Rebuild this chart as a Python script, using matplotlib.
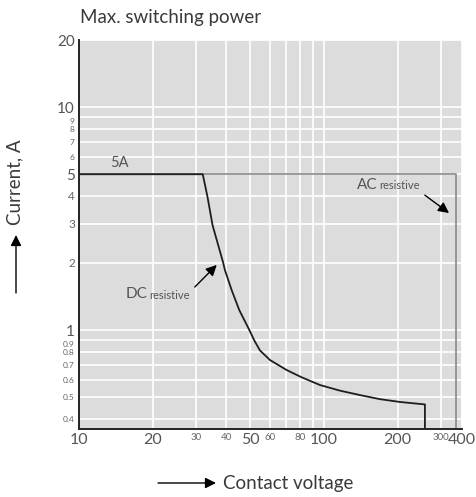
import matplotlib
matplotlib.use("Agg")
import matplotlib.pyplot as plt
from matplotlib.ticker import FixedLocator, NullFormatter
from matplotlib.transforms import ScaledTranslation

plt.rcParams['font.family'] = ['Lato', 'DejaVu Sans']

# ---- data ----
dc_voltage = [10, 32, 33.4, 35.1, 38.8, 39.4, 42.0, 45.1, 49.6, 51.9, 54.8, 60.2, 70.4, 81.1,
              96.3, 116.2, 140.3, 169.3, 204.2, 258.3, 258.3]
dc_current = [5, 5, 4.0, 2.95, 2.0, 1.86, 1.51, 1.23, 1.0, 0.9, 0.81, 0.734, 0.662, 0.614,
              0.567, 0.535, 0.511, 0.490, 0.476, 0.464, 0.30]
ac_voltage = [10, 346, 346]
ac_current = [5, 5, 0.30]

x_ticks = [10, 20, 30, 40, 50, 60, 80, 100, 200, 300, 366]
x_labels = ['10', '20', '30', '40', '50', '60', '80', '100', '200', '300', '400']
x_big = ['10', '20', '50', '100', '200', '400']
x_minor_grid = [70, 90]

y_ticks = [0.4, 0.5, 0.6, 0.7, 0.8, 0.9, 1, 2, 3, 4, 5, 6, 7, 8, 9, 10, 20]
y_labels = ['0.4', '0.5', '0.6', '0.7', '0.8', '0.9', '1', '2', '3', '4', '5', '6', '7', '8', '9', '10', '20']
y_big = ['1', '5', '10', '20']
y_mid = ['2', '3', '4']

W, H = 477, 497
fig = plt.figure(figsize=(W / 100, H / 100), dpi=100)
ax = fig.add_axes([79 / W, 1 - 429 / H, (462 - 79) / W, (429 - 40) / H])
ax.set_facecolor('#dcdcdd')
ax.set_xscale('log')
ax.set_yscale('log')
ax.set_xlim(10, 366)
ax.set_ylim(0.36, 20)

ax.xaxis.set_major_locator(FixedLocator(x_ticks))
ax.xaxis.set_minor_locator(FixedLocator(x_minor_grid))
ax.xaxis.set_minor_formatter(NullFormatter())
ax.set_xticklabels(x_labels)
ax.yaxis.set_major_locator(FixedLocator(y_ticks))
ax.yaxis.set_minor_locator(FixedLocator([]))
ax.yaxis.set_minor_formatter(NullFormatter())
ax.set_yticklabels(y_labels)

ax.grid(True, which='both', color='white', linewidth=1.2)
ax.set_axisbelow(True)
ax.tick_params(which='both', length=0)
ax.tick_params(axis='x', pad=3)
ax.tick_params(axis='y', pad=3)

for lab in ax.get_xticklabels():
    big = lab.get_text() in x_big
    lab.set_fontsize(11.5 if big else 7)
    lab.set_color('#555555' if big else '#666666')

shift_down = ScaledTranslation(0, -2.5 / 72, fig.dpi_scale_trans)
for lab in ax.get_yticklabels():
    t = lab.get_text()
    if t in y_big:
        lab.set_fontsize(11)
        lab.set_color('#555555')
    elif t in y_mid:
        lab.set_fontsize(8.5)
        lab.set_color('#666666')
    else:
        lab.set_fontsize(6)
        lab.set_color('#666666')
    if t in ('9', '0.9'):
        lab.set_transform(lab.get_transform() + shift_down)

for s in ['top', 'right']:
    ax.spines[s].set_visible(False)
for s in ['left', 'bottom']:
    ax.spines[s].set_color('#222222')
    ax.spines[s].set_linewidth(1.4)
    ax.spines[s].set_zorder(5)

ax.plot(ac_voltage, ac_current, color='#8a8a8a', linewidth=1.2, zorder=3)
ax.plot(dc_voltage, dc_current, color='#1e1e1e', linewidth=1.3, zorder=4)

txt = dict(color='#555555', va='center', ha='left')
ax.text(13.4, 5.6, '5A', fontsize=10.5, **txt)
ax.text(15.5, 1.45, 'DC', fontsize=11, **txt)
ax.text(19.3, 1.43, 'resistive', fontsize=8, **txt)
ax.text(136, 4.47, 'AC', fontsize=11, **txt)
ax.text(167.7, 4.43, 'resistive', fontsize=8, **txt)

arrow = dict(arrowstyle='-|>', color='black', lw=1.0, mutation_scale=16, shrinkA=0, shrinkB=0)
ax.annotate('', xy=(36.5, 1.96), xytext=(29.7, 1.56), arrowprops=arrow)
ax.annotate('', xy=(324, 3.35), xytext=(258, 4.03), arrowprops=arrow)

fig.text(80 / W, 1 - 17 / H, 'Max. switching power', fontsize=13.5, color='#3a3a3a',
         va='center', ha='left')
fig.text(15 / W, 1 - 182.5 / H, 'Current, A', fontsize=13.5, color='#3a3a3a',
         rotation=90, va='center', ha='center')
fig.text(223 / W, 1 - 483 / H, 'Contact voltage', fontsize=13.5, color='#3a3a3a',
         va='center', ha='left')
ax.annotate('', xy=(16 / W, 1 - 235 / H), xytext=(16 / W, 1 - 293 / H),
            xycoords='figure fraction', textcoords='figure fraction', arrowprops=arrow)
ax.annotate('', xy=(216 / W, 1 - 483 / H), xytext=(158 / W, 1 - 483 / H),
            xycoords='figure fraction', textcoords='figure fraction', arrowprops=arrow)

fig.savefig('out.png', dpi=100)
